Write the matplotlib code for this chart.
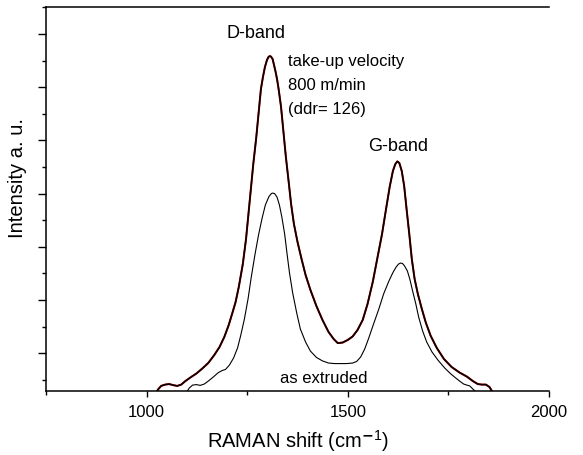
import matplotlib
matplotlib.use("Agg")
import matplotlib.pyplot as plt
from matplotlib.ticker import FixedLocator

plt.rcParams['font.family'] = ['Liberation Sans', 'DejaVu Sans']
plt.rcParams['mathtext.fontset'] = 'custom'
plt.rcParams['mathtext.rm'] = 'Liberation Sans'

# take-up velocity 800 m/min (ddr = 126)
shift_drawn = [1026, 1029, 1036, 1046, 1056, 1066, 1076, 1086, 1096, 1109, 1124, 1138,
               1153, 1168, 1181, 1193, 1204, 1213, 1221, 1229, 1239, 1247, 1253, 1259,
               1265, 1272, 1278, 1284, 1289, 1294, 1299, 1303, 1306, 1309, 1313, 1316,
               1320, 1324, 1328, 1334, 1340, 1346, 1353, 1359, 1366, 1375, 1385, 1395,
               1407, 1422, 1437, 1452, 1465, 1475, 1487, 1500, 1512, 1524, 1537, 1549,
               1562, 1574, 1585, 1595, 1604, 1612, 1618, 1623, 1628, 1634, 1640, 1646,
               1653, 1659, 1666, 1674, 1684, 1694, 1706, 1721, 1739, 1758, 1778, 1796,
               1811, 1823, 1833, 1843, 1852, 1858]
int_drawn = [-0.42, -0.35, -0.23, -0.18, -0.16, -0.20, -0.23, -0.18, -0.05, 0.09, 0.24, 0.42,
             0.63, 0.93, 1.23, 1.61, 2.06, 2.51, 2.92, 3.49, 4.35, 5.29, 6.23, 7.17,
             8.11, 9.05, 9.99, 10.93, 11.38, 11.76, 12.02, 12.14, 12.17, 12.15, 12.06, 11.87,
             11.61, 11.31, 10.93, 10.26, 9.32, 8.38, 7.44, 6.61, 5.86, 5.18, 4.54, 3.94,
             3.38, 2.77, 2.25, 1.80, 1.53, 1.38, 1.40, 1.50, 1.63, 1.87, 2.25, 2.85,
             3.68, 4.62, 5.48, 6.42, 7.25, 7.85, 8.11, 8.21, 8.15, 7.85, 7.29, 6.42,
             5.44, 4.54, 3.79, 3.23, 2.66, 2.14, 1.65, 1.20, 0.78, 0.48, 0.27, 0.12,
             -0.05, -0.16, -0.18, -0.18, -0.27, -0.42]

# as extruded
shift_extr = [1101, 1106, 1114, 1124, 1133, 1143, 1153, 1166, 1178, 1188, 1196, 1206,
              1216, 1226, 1234, 1243, 1252, 1260, 1269, 1278, 1287, 1295, 1304, 1310,
              1313, 1318, 1324, 1330, 1336, 1343, 1349, 1355, 1363, 1373, 1382, 1395,
              1407, 1422, 1437, 1452, 1467, 1482, 1497, 1512, 1522, 1532, 1542, 1552,
              1564, 1577, 1589, 1602, 1612, 1620, 1626, 1631, 1636, 1641, 1648, 1654,
              1661, 1669, 1676, 1686, 1696, 1709, 1724, 1741, 1756, 1768, 1778, 1788,
              1796, 1803, 1811, 1816]
int_extr = [-0.42, -0.31, -0.20, -0.18, -0.21, -0.16, -0.05, 0.11, 0.27, 0.35, 0.39, 0.56,
            0.82, 1.20, 1.68, 2.29, 3.04, 3.86, 4.69, 5.44, 6.08, 6.57, 6.89, 7.00,
            7.02, 7.00, 6.87, 6.57, 6.12, 5.48, 4.73, 4.02, 3.26, 2.51, 1.91, 1.42,
            1.08, 0.84, 0.71, 0.63, 0.61, 0.61, 0.61, 0.63, 0.69, 0.86, 1.16, 1.57,
            2.10, 2.66, 3.23, 3.71, 4.03, 4.24, 4.35, 4.39, 4.37, 4.28, 4.09, 3.79,
            3.34, 2.85, 2.36, 1.83, 1.42, 1.05, 0.74, 0.44, 0.22, 0.07, -0.05, -0.16,
            -0.20, -0.23, -0.35, -0.42]

fig = plt.figure(figsize=(5.83, 4.56), dpi=100)
ax = fig.add_axes([0.079, 0.1404, 0.8627, 0.8412])

ax.plot(shift_drawn, int_drawn, color='#cc0000', lw=1.45, solid_joinstyle='round')
ax.plot(shift_drawn, int_drawn, color='black', lw=1.15, solid_joinstyle='round')
ax.plot(shift_extr, int_extr, color='black', lw=0.8, solid_joinstyle='round')

ax.set_xlim(750, 2000)
ax.set_ylim(-0.42, 14)

ax.xaxis.set_major_locator(FixedLocator([1000, 1500, 2000]))
ax.xaxis.set_minor_locator(FixedLocator([750, 1250, 1750]))
ax.yaxis.set_major_locator(FixedLocator(list(range(1, 14, 2))))
ax.yaxis.set_minor_locator(FixedLocator(list(range(0, 15, 2))))
ax.set_yticklabels([])
ax.tick_params(axis='x', which='major', direction='out', length=4.5, width=1, labelsize=12, pad=5)
ax.tick_params(axis='x', which='minor', direction='out', length=3, width=1)
ax.tick_params(axis='y', which='major', direction='out', length=5.8, width=1)
ax.tick_params(axis='y', which='minor', direction='out', length=2.9, width=1)

ax.spines['right'].set_visible(False)
for s in ['left', 'bottom', 'top']:
    ax.spines[s].set_linewidth(1.1)

ax.set_xlabel('RAMAN shift (cm$^{\\mathbf{-}1}$)', fontsize=14.5, labelpad=6)
ax.set_ylabel('Intensity a. u.', fontsize=14.5)
ax.yaxis.set_label_coords(-0.038, 0.557)

ax.text(1272, 13.05, 'D-band', fontsize=13, ha='center', va='center')
ax.text(1625, 8.82, 'G-band', fontsize=13, ha='center', va='center')
ax.text(1352, 12.0, 'take-up velocity', fontsize=12, ha='left', va='center')
ax.text(1352, 11.12, '800 m/min', fontsize=12, ha='left', va='center')
ax.text(1352, 10.2, '(ddr= 126)', fontsize=12, ha='left', va='center')
ax.text(1440, 0.1, 'as extruded', fontsize=12, ha='center', va='center')

fig.savefig('out.png', dpi=100)
